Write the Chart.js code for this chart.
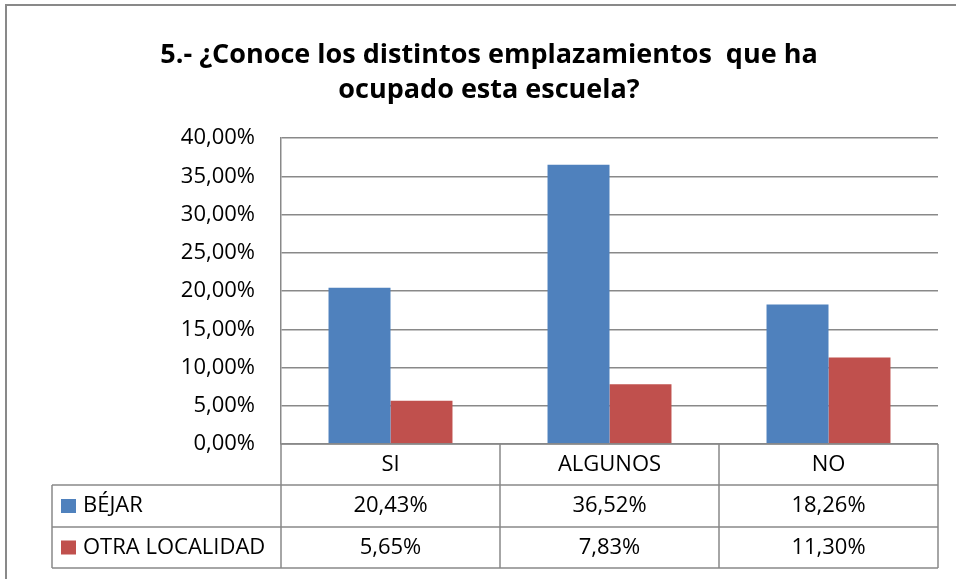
<!DOCTYPE html>
<html>
<head>
<meta charset="utf-8">
<script src="https://cdn.jsdelivr.net/npm/chart.js@4"></script>
<style>
  body { margin: 0; background: #fff; }
</style>
</head>
<body>
<canvas id="myChart" width="956" height="579"></canvas>
<script>
const categories = ['SI', 'ALGUNOS', 'NO']
const seriesNames = ['BÉJAR', 'OTRA LOCALIDAD']
const bejar = [20.43, 36.52, 18.26]
const otraLocalidad = [5.65, 7.83, 11.30]
const colors = ['#4f81bd', '#c0504d']
const titleLines = ['5.- ¿Conoce los distintos emplazamientos  que ha', 'ocupado esta escuela?']

const lineGray = '#898989'
const fontFam = '"Open Sans", sans-serif'
const textSize = 22

const pct = v => v.toFixed(2).replace('.', ',') + '%'

// outer frame + data table under the plot
const dataTable = {
    id: 'dataTable',
    beforeDraw (chart) {
        const c = chart.ctx
        c.save()
        c.strokeStyle = lineGray
        c.lineWidth = 2
        c.strokeRect(6, 5, 1000, 1000)
        c.restore()
    },
    afterDraw (chart) {
        const {ctx: c, chartArea: {left, right, bottom}, scales: {x}} = chart
        const colW = (right - left) / categories.length
        const rows = [bottom, bottom + 41, bottom + 83, bottom + 124]
        const legendLeft = 52
        c.save()
        c.strokeStyle = lineGray
        c.lineWidth = 1.5
        c.beginPath()
        // horizontal lines
        c.moveTo(left, rows[0]); c.lineTo(right, rows[0])
        for (let r = 1; r < rows.length; r++) {
            c.moveTo(legendLeft, rows[r]); c.lineTo(right, rows[r])
        }
        // vertical lines
        for (let i = 0; i <= categories.length; i++) {
            const xx = left + i * colW
            c.moveTo(xx, rows[0]); c.lineTo(xx, rows[3])
        }
        c.moveTo(legendLeft, rows[1]); c.lineTo(legendLeft, rows[3])
        c.stroke()

        c.fillStyle = '#000'
        c.font = `${textSize}px ${fontFam}`
        c.textBaseline = 'middle'
        c.textAlign = 'center'
        categories.forEach((cat, i) => {
            const cx = x.getPixelForValue(i)
            c.fillText(cat, cx, (rows[0] + rows[1]) / 2)
        })
        chart.data.datasets.forEach((ds, d) => {
            const cy = (rows[d + 1] + rows[d + 2]) / 2
            c.textAlign = 'center'
            ds.data.forEach((v, i) => {
                c.fillText(pct(v), x.getPixelForValue(i), cy)
            })
            c.fillStyle = ds.backgroundColor
            c.fillRect(61, cy - 7, 15, 14)
            c.fillStyle = '#000'
            c.textAlign = 'left'
            c.fillText(ds.label, 83, cy)
        })
        c.restore()
    }
}

new Chart(document.getElementById('myChart'), {
    type: 'bar',
    data: {
        labels: categories,
        datasets: [
            { label: seriesNames[0], data: bejar, backgroundColor: colors[0] },
            { label: seriesNames[1], data: otraLocalidad, backgroundColor: colors[1] }
        ]
    },
    options: {
        responsive: false,
        animation: false,
        layout: { padding: { left: 40, right: 18, top: 12, bottom: 135 } },
        datasets: { bar: { categoryPercentage: 0.566, barPercentage: 1 } },
        plugins: {
            legend: { display: false },
            tooltip: { enabled: false },
            title: {
                display: true,
                text: titleLines,
                color: '#000',
                font: { family: fontFam, size: 27, weight: 'bold', lineHeight: 1.3 },
                padding: { top: 26, bottom: 30 }
            }
        },
        scales: {
            x: { display: false },
            y: {
                min: 0,
                max: 40,
                afterFit (scale) { scale.width = 241 },
                ticks: {
                    stepSize: 5,
                    padding: 26,
                    color: '#000',
                    font: { family: fontFam, size: textSize },
                    callback: v => pct(v)
                },
                grid: { color: lineGray, lineWidth: 1.5, drawTicks: false },
                border: { color: lineGray, width: 1.5 }
            }
        }
    },
    plugins: [dataTable]
})
</script>
</body>
</html>
